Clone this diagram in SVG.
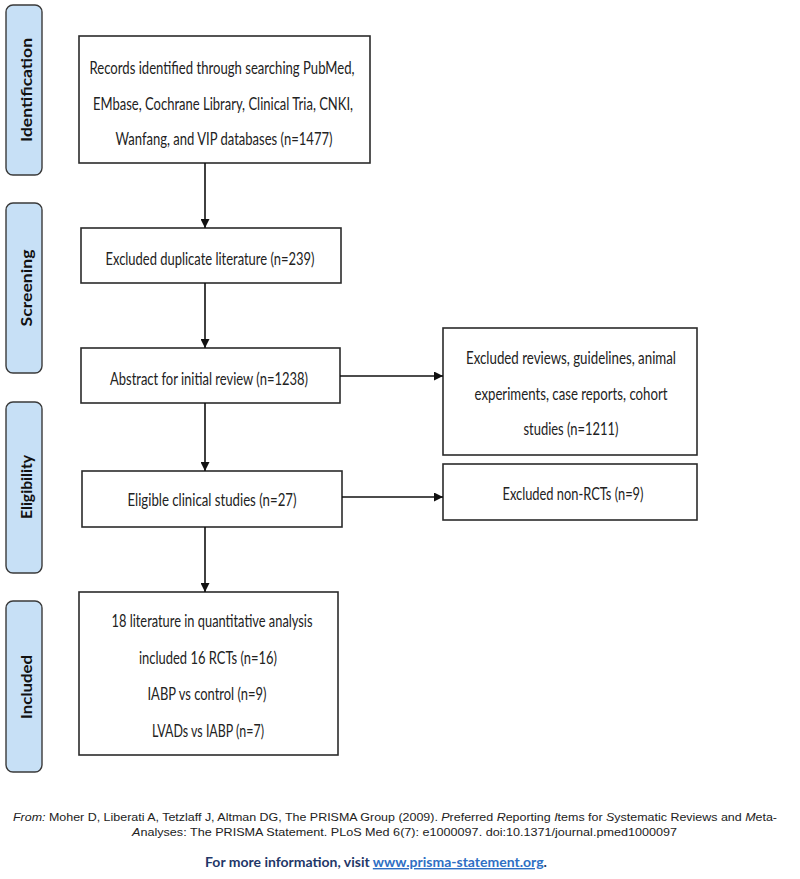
<svg xmlns="http://www.w3.org/2000/svg" width="800" height="879" viewBox="0 0 800 879">
<style>
.box{fill:#fff;stroke:#2b2b2b;stroke-width:1.6}
.side{fill:#c7e0f6;stroke:#3a3a3a;stroke-width:1.4}
.t{font-family:Lato,"Open Sans","Liberation Sans",sans-serif;font-size:17px;fill:#222;text-anchor:middle;dominant-baseline:central}
.s{font-family:Lato,"Open Sans","Liberation Sans",sans-serif;font-size:16px;font-weight:bold;fill:#111;text-anchor:middle;dominant-baseline:central}
.c{stroke:#111;stroke-width:1.6;fill:none;marker-end:url(#ah)}
.f{font-family:"Liberation Sans",Arial,sans-serif;font-size:11.5px;fill:#222}
.m{font-family:Lato,"Open Sans","Liberation Sans",sans-serif;font-size:14px;font-weight:bold;fill:#1f3868}
.lk{fill:#2e6fc4;text-decoration:underline}
</style>
<defs>
<marker id="ah" viewBox="0 0 10 10" refX="10" refY="5" markerWidth="12" markerHeight="9" markerUnits="userSpaceOnUse" orient="auto">
<path d="M0,0 L10,5 L0,10 z" fill="#111"/>
</marker>
</defs>
<rect width="800" height="879" fill="#fff"/>

<g id="stage-identification">
<rect class="side" x="6" y="5" width="36" height="170" rx="7"/>
<text class="s" transform="translate(25,90) rotate(-90)" textLength="104" lengthAdjust="spacingAndGlyphs">Identification</text>
</g>
<g id="stage-screening">
<rect class="side" x="6" y="203" width="36" height="170" rx="7"/>
<text class="s" transform="translate(25,288) rotate(-90)" textLength="77" lengthAdjust="spacingAndGlyphs">Screening</text>
</g>
<g id="stage-eligibility">
<rect class="side" x="6" y="402" width="36" height="171" rx="7"/>
<text class="s" transform="translate(25,487) rotate(-90)" textLength="64" lengthAdjust="spacingAndGlyphs">Eligibility</text>
</g>
<g id="stage-included">
<rect class="side" x="6" y="601" width="36" height="171" rx="7"/>
<text class="s" transform="translate(25,687) rotate(-90)" textLength="64" lengthAdjust="spacingAndGlyphs">Included</text>
</g>

<g id="records">
<rect class="box" x="79" y="36" width="291" height="127"/>
<text class="t" x="222" y="67" textLength="265" lengthAdjust="spacingAndGlyphs">Records identified through searching PubMed,</text>
<text class="t" x="223" y="103" textLength="260" lengthAdjust="spacingAndGlyphs">EMbase, Cochrane Library, Clinical Tria, CNKI,</text>
<text class="t" x="224" y="138" textLength="217" lengthAdjust="spacingAndGlyphs">Wanfang, and VIP databases (n=1477)</text>
</g>
<g id="duplicates">
<rect class="box" x="81" y="228" width="260" height="55"/>
<text class="t" x="210" y="258" textLength="209" lengthAdjust="spacingAndGlyphs">Excluded duplicate literature (n=239)</text>
</g>
<g id="abstract">
<rect class="box" x="81" y="348" width="259" height="55"/>
<text class="t" x="209" y="378" textLength="198" lengthAdjust="spacingAndGlyphs">Abstract for initial review (n=1238)</text>
</g>
<g id="excluded-reviews">
<rect class="box" x="443" y="328" width="254" height="127"/>
<text class="t" x="571" y="357" textLength="210" lengthAdjust="spacingAndGlyphs">Excluded reviews, guidelines, animal</text>
<text class="t" x="571" y="393" textLength="193" lengthAdjust="spacingAndGlyphs">experiments, case reports, cohort</text>
<text class="t" x="571" y="428" textLength="95" lengthAdjust="spacingAndGlyphs">studies (n=1211)</text>
</g>
<g id="excluded-nonrct">
<rect class="box" x="443" y="464" width="254" height="56"/>
<text class="t" x="573" y="493" textLength="141" lengthAdjust="spacingAndGlyphs">Excluded non-RCTs (n=9)</text>
</g>
<g id="eligible">
<rect class="box" x="82" y="471" width="260" height="56"/>
<text class="t" x="212" y="499" textLength="169" lengthAdjust="spacingAndGlyphs">Eligible clinical studies (n=27)</text>
</g>
<g id="included">
<rect class="box" x="79" y="592" width="259" height="163"/>
<text class="t" x="212" y="620" textLength="201" lengthAdjust="spacingAndGlyphs">18 literature in quantitative analysis</text>
<text class="t" x="208" y="657" textLength="138" lengthAdjust="spacingAndGlyphs">included 16 RCTs (n=16)</text>
<text class="t" x="207" y="693" textLength="119" lengthAdjust="spacingAndGlyphs">IABP vs control (n=9)</text>
<text class="t" x="208" y="730" textLength="112" lengthAdjust="spacingAndGlyphs">LVADs vs IABP (n=7)</text>
</g>

<g id="connectors">
<line class="c" x1="205" y1="163" x2="205" y2="228"/>
<line class="c" x1="205" y1="283" x2="205" y2="348"/>
<line class="c" x1="205" y1="403" x2="205" y2="471"/>
<line class="c" x1="205" y1="527" x2="205" y2="592"/>
<line class="c" x1="340" y1="376" x2="443" y2="376"/>
<line class="c" x1="342" y1="497" x2="443" y2="497"/>
</g>

<g id="footer">
<text class="f" x="13" y="821" textLength="764" lengthAdjust="spacingAndGlyphs"><tspan font-style="italic">From:</tspan>  Moher D, Liberati A, Tetzlaff J, Altman DG, The PRISMA Group (2009). <tspan font-style="italic">P</tspan>referred <tspan font-style="italic">R</tspan>eporting <tspan font-style="italic">I</tspan>tems for <tspan font-style="italic">S</tspan>ystematic Reviews and <tspan font-style="italic">M</tspan>eta-</text>
<text class="f" x="132" y="836" textLength="545" lengthAdjust="spacingAndGlyphs"><tspan font-style="italic">A</tspan>nalyses: The PRISMA Statement. PLoS Med 6(7): e1000097. doi:10.1371/journal.pmed1000097</text>
<text class="m" x="376" y="867" text-anchor="middle">For more information, visit <tspan class="lk">www.prisma-statement.org</tspan>.</text>
</g>
</svg>
